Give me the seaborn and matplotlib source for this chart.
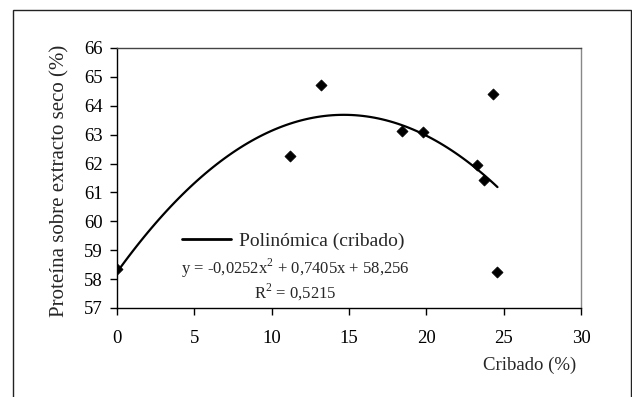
import numpy as np
import pandas as pd
import matplotlib
matplotlib.use("Agg")
import matplotlib.pyplot as plt
import seaborn as sns
from matplotlib.patches import Rectangle
from matplotlib.lines import Line2D

# ---- data ----
cribado = [0.0, 11.2, 13.2, 18.4, 19.8, 23.3, 23.7, 24.3, 24.6]
proteina = [58.35, 62.25, 64.72, 63.13, 63.09, 61.95, 61.42, 64.40, 58.23]
legend_label = "Polinómica (cribado)"
equation_text = "y = -0,0252x$^{2}$ + 0,7405x + 58,256"
r2_text = "R$^{2}$ = 0,5215"
x_ticks = [0, 5, 10, 15, 20, 25, 30]
y_ticks = [57, 58, 59, 60, 61, 62, 63, 64, 65, 66]
x_label = "Cribado (%)"
y_label = "Proteína sobre extracto seco (%)"

df = pd.DataFrame({"cribado": cribado, "proteina": proteina})

sns.set_style("ticks")
plt.rcParams["font.family"] = ["Liberation Serif", "DejaVu Serif"]
plt.rcParams["mathtext.fontset"] = "custom"
plt.rcParams["mathtext.rm"] = "Liberation Serif"

W, H = 632, 397
fig = plt.figure(figsize=(W / 100, H / 100), dpi=100)
ax = fig.add_axes([117 / W, 1 - 308 / H, 464 / W, 260 / H])

# outer frame
fig.patches.append(Rectangle((13 / W, -0.05), (631 - 13) / W, 1.05 - 10 / H,
                             transform=fig.transFigure, fill=False,
                             edgecolor="#222222", linewidth=1.0))

sns.regplot(data=df, x="cribado", y="proteina", order=2, ci=None, scatter=False,
            ax=ax, line_kws=dict(color="black", linewidth=1.6))
sns.scatterplot(data=df, x="cribado", y="proteina", ax=ax, marker="D", s=32,
                color="black", edgecolor="black", linewidth=0.5, zorder=3)

ax.set_xlim(0, 30)
ax.set_ylim(57, 66)
ax.set_xticks(x_ticks)
ax.set_yticks(y_ticks)
ax.set_xticklabels([str(t) for t in x_ticks])
ax.set_yticklabels([str(t) for t in y_ticks])
ax.set_xlabel("")
ax.set_ylabel("")
ax.tick_params(axis="both", direction="out", length=5, width=1, colors="black",
               labelsize=13.5)
ax.tick_params(axis="x", pad=11)
ax.tick_params(axis="y", pad=5)

for side in ["left", "bottom"]:
    ax.spines[side].set_color("black")
    ax.spines[side].set_linewidth(1.0)
ax.spines["top"].set_color("#444444")
ax.spines["right"].set_color("#888888")
for side in ["top", "right"]:
    ax.spines[side].set_visible(True)
    ax.spines[side].set_linewidth(1.0)

# axis labels
fig.text(530 / W, 1 - 365 / H, x_label, ha="center", va="center", fontsize=13.5)
fig.text(60 / W, 1 - 180.5 / H, y_label, ha="center", va="center", rotation=90,
         fontsize=15)

# legend and equation
handle = Line2D([], [], color="black", linewidth=2.0)
ax.legend([handle], [legend_label], loc="center left",
          bbox_to_anchor=((182 - 117) / 464, (308 - 241) / 260),
          frameon=False, fontsize=14, handlelength=2.5, handletextpad=0.45,
          borderpad=0, borderaxespad=0)
fig.text(295 / W, 1 - 268 / H, equation_text, ha="center", va="center", fontsize=12)
fig.text(295 / W, 1 - 292 / H, r2_text, ha="center", va="center", fontsize=12)

fig.savefig("out.png", dpi=100, facecolor="white")
